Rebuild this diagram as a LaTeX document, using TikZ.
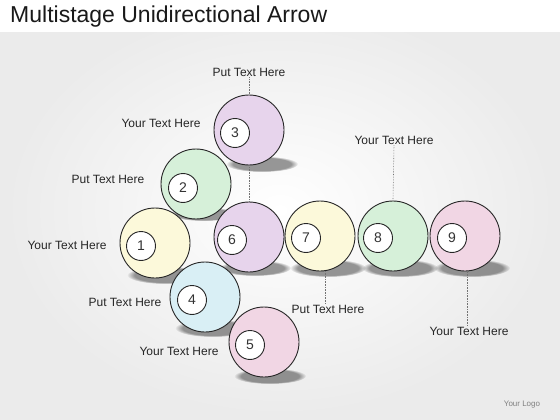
\documentclass[tikz,border=0pt]{standalone}
\usepackage{fontspec}
\setmainfont{Liberation Sans}
\usetikzlibrary{fadings}
\definecolor{cyel}{HTML}{FCF9DA}
\definecolor{cgrn}{HTML}{D6F0D9}
\definecolor{cpur}{HTML}{E7D4EC}
\definecolor{cblu}{HTML}{D9EFF5}
\definecolor{cpnk}{HTML}{F1D6E4}
\begin{document}
\begin{tikzpicture}[x=1pt,y=-1pt,
  ball/.style={circle,draw=black!85,line width=0.9pt,minimum size=70pt,inner sep=0pt},
  num/.style={circle,draw=black!85,fill=white,line width=0.9pt,minimum size=29pt,inner sep=0pt,font=\fontsize{14}{14}\selectfont,text=black!80},
  lbl/.style={font=\fontsize{12}{14}\selectfont,text=black!85,inner sep=1pt},
  lead/.style={draw=black!55,densely dotted,line width=0.6pt},
  shad/.style={black,opacity=0.4,path fading=circle with fuzzy edge 20 percent}]
\useasboundingbox (0,0) rectangle (560,420);
\shade[inner color=white,outer color=black!8] (0,0) rectangle (560,420);
\fill[white] (0,0) rectangle (560,32);
\node[anchor=west,font=\fontsize{23}{26}\selectfont,text=black!90,inner sep=0pt] (title) at (10,17) {Multistage Unidirectional Arrow};
% shadows
\fill[shad] (262,164) ellipse (36 and 8);
\fill[shad] (165,275) ellipse (38 and 9);
\fill[shad] (213,328) ellipse (38 and 9);
\fill[shad] (270,376) ellipse (36 and 8);
\fill[shad] (255,268) ellipse (36 and 8);
\fill[shad] (328,268) ellipse (38 and 9);
\fill[shad] (400,268) ellipse (38 and 9);
\fill[shad] (472,268) ellipse (38 and 9);
\fill[shad] (204,214) ellipse (34 and 7);
% balls
\node[ball,fill=cpur] (b3) at (249,130) {};
\node[ball,fill=cgrn] (b2) at (196,184) {};
\node[ball,fill=cyel] (b1) at (155,243) {};
\node[ball,fill=cpur] (b6) at (249,237) {};
\node[ball,fill=cyel] (b7) at (320,236) {};
\node[ball,fill=cgrn] (b8) at (393,236) {};
\node[ball,fill=cpnk] (b9) at (465,236) {};
\node[ball,fill=cblu] (b4) at (205,297) {};
\node[ball,fill=cpnk] (b5) at (264,342) {};
% numbers
\node[num] (n1) at (141,246) {1};
\node[num] (n2) at (183,188) {2};
\node[num] (n3) at (235,133) {3};
\node[num] (n4) at (192,300) {4};
\node[num] (n5) at (250,345) {5};
\node[num] (n6) at (232,240) {6};
\node[num] (n7) at (306,238) {7};
\node[num] (n8) at (378,238) {8};
\node[num] (n9) at (452,238) {9};
% labels
\node[lbl] (l3t) at (249,72) {Put Text Here};
\node[lbl] (l3) at (161,123) {Your Text Here};
\node[lbl] (l2) at (108,179) {Put Text Here};
\node[lbl] (l1) at (67,245) {Your Text Here};
\node[lbl] (l4) at (125,302) {Put Text Here};
\node[lbl] (l5) at (179,351) {Your Text Here};
\node[lbl] (l8) at (394,140) {Your Text Here};
\node[lbl] (l7) at (328,309) {Put Text Here};
\node[lbl] (l9) at (469,331) {Your Text Here};
\node[font=\fontsize{8}{9}\selectfont,text=black!50] (logo) at (522,405) {Your Logo};
% leaders
\draw[lead] (l3t.south) -- (b3.north);
\draw[lead] (b3.south) -- (b6.north);
\draw[lead] (l8.south) -- (b8.north);
\draw[lead] (l7.north -| 325,0) -- (325,271);
\draw[lead] (l9.north -| 467,0) -- (467,271);
\end{tikzpicture}
\end{document}
